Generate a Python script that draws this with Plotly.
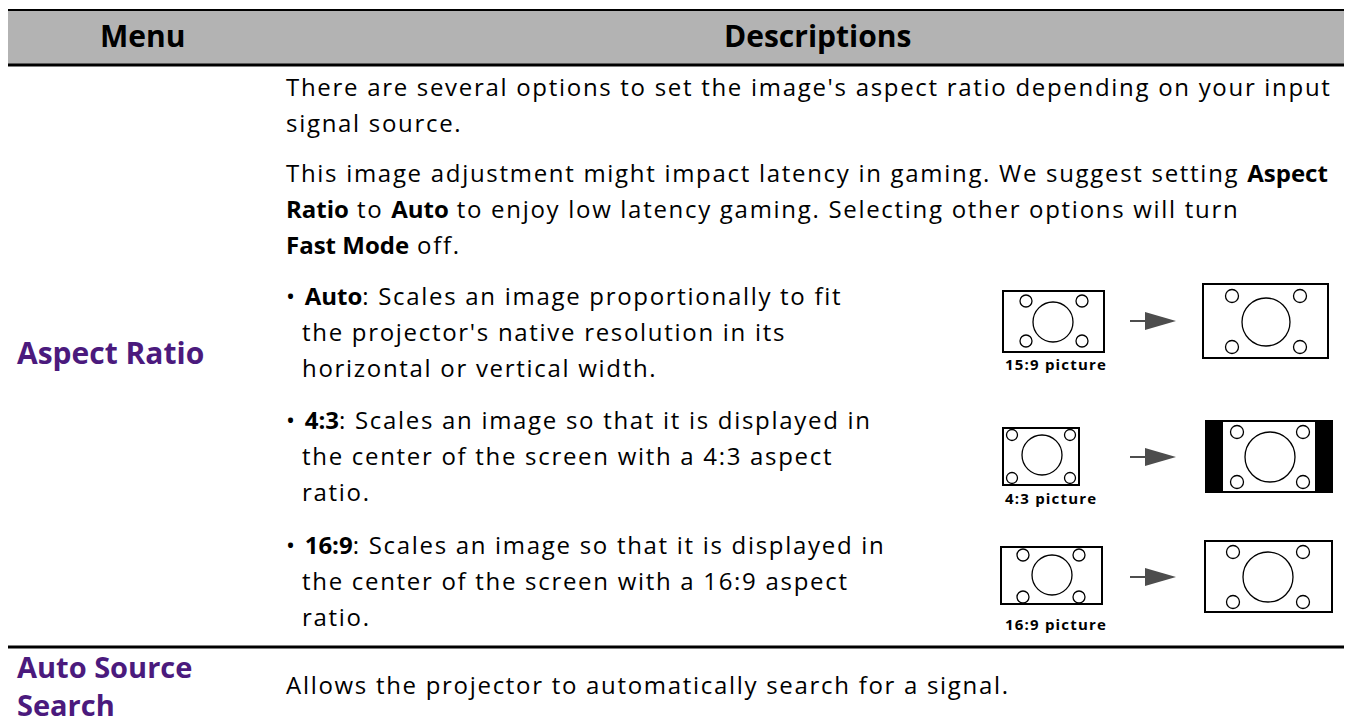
import plotly.graph_objects as go

# ---------------- content ----------------
header_labels = ["Menu", "Descriptions"]
menu_items = ["Aspect Ratio", ["Auto Source", "Search"]]

intro_lines = [
    "There are several options to set the image's aspect ratio depending on your input",
    "signal source.",
]
latency_lines = [
    "This image adjustment might impact latency in gaming. We suggest setting <b>Aspect</b>",
    "<b>Ratio</b> to <b>Auto</b> to enjoy low latency gaming. Selecting other options will turn",
    "<b>Fast Mode</b> off.",
]
option_names = ["Auto", "4:3", "16:9"]
option_first = [
    "Scales an image proportionally to fit",
    "Scales an image so that it is displayed in",
    "Scales an image so that it is displayed in",
]
option_rest = [
    ["the projector's native resolution in its", "horizontal or vertical width."],
    ["the center of the screen with a 4:3 aspect", "ratio."],
    ["the center of the screen with a 16:9 aspect", "ratio."],
]
picture_labels = ["15:9 picture", "4:3 picture", "16:9 picture"]
auto_source_text = "Allows the projector to automatically search for a signal."

# ---------------- layout constants ----------------
W, H = 1352, 724
OFF = 8  # browser body margin
FONT = "Open Sans"
BODY = 24
BIG = 30
PURPLE = "#4b1a7d"
GRAY = "#b3b3b3"
LINE_H = 36

fig = go.Figure()
shapes = []
ann = []

def text(x, y, s, size=BODY, color="black", anchor="left", family=FONT):
    ann.append(dict(x=x, y=y, xref="x", yref="y", text=s, showarrow=False,
                    xanchor=anchor, yanchor="middle", align=("center" if anchor == "center" else "left"),
                    font=dict(family=family, size=size, color=color)))

# header band and rules
shapes.append(dict(type="rect", x0=7, x1=1349, y0=10, y1=65, fillcolor=GRAY, line_width=0, layer="below"))
shapes.append(dict(type="line", x0=7, x1=1349, y0=10, y1=10, line=dict(color="black", width=2)))
shapes.append(dict(type="line", x0=7, x1=1349, y0=65, y1=65, line=dict(color="black", width=3)))
shapes.append(dict(type="line", x0=7, x1=1349, y0=647, y1=647, line=dict(color="black", width=3)))

text(142, 35, "<b>" + header_labels[0] + "</b>", size=BIG, anchor="center")
text(817, 35, "<b>" + header_labels[1] + "</b>", size=BIG, anchor="center")

# menu column
text(15, 352, "<b>" + menu_items[0] + "</b>", size=BIG, color=PURPLE)
text(15, 685, "<b>" + "<br>".join(menu_items[1]) + "</b>", size=29, color=PURPLE)

# description column
X0 = 284
X1 = 300
y = 86
for s in intro_lines:
    text(X0, y, s); y += LINE_H
y = 172
for s in latency_lines:
    text(X0, y, s); y += LINE_H

opt_y = [295, 419, 544]
for name, first, rest, y0 in zip(option_names, option_first, option_rest, opt_y):
    text(X0, y0, "• <b>" + name + "</b>: " + first)
    for i, s in enumerate(rest):
        text(X1, y0 + (i + 1) * LINE_H, s)

text(X0, 684, auto_source_text)

# ---------------- picture icons ----------------
src_boxes = [(1003, 1104, 291, 352), (1003, 1079, 428, 485), (1001, 1102, 547, 604)]
src_small = [((1026, 1082), (301, 341), 6), ((1012, 1070), (435, 478), 5.5), ((1023, 1079), (555, 597), 6)]
src_big = [(1053, 322, 20), (1042, 455, 20), (1052, 575, 20)]
label_pos = [(1003, 364), (1003, 498), (1003, 624)]

dst_boxes = [(1203, 1328, 284, 358), (1205, 1333, 420, 493), (1205, 1332, 541, 612)]
dst_inner = [None, (1223, 1315, 422, 491), None]
dst_small = [((1232, 1300), (296, 347), 6.5), ((1237, 1303), (432, 482), 6.5), ((1233, 1303), (552, 602), 6.5)]
dst_big = [(1266, 322, 24), (1270, 457, 25), (1268, 577, 25)]
arrow_y = [321, 457, 577]

def circ(cx, cy, r, w=1.3):
    shapes.append(dict(type="circle", x0=cx - r, x1=cx + r, y0=cy - r, y1=cy + r,
                       line=dict(color="black", width=w), fillcolor="white"))

for i in range(3):
    x0, x1, y0, y1 = src_boxes[i]
    shapes.append(dict(type="rect", x0=x0, x1=x1, y0=y0, y1=y1, line=dict(color="black", width=2), fillcolor="white"))
    xs, ys, r = src_small[i]
    for cx in xs:
        for cy in ys:
            circ(cx, cy, r)
    circ(*src_big[i])
    text(label_pos[i][0], label_pos[i][1], "<b>" + picture_labels[i] + "</b>", size=15)

    ay = arrow_y[i]
    shapes.append(dict(type="line", x0=1130, x1=1148, y0=ay, y1=ay, line=dict(color="#4d4d4d", width=2)))
    shapes.append(dict(type="path", path=f"M 1145 {ay-9} L 1176 {ay} L 1145 {ay+9} Z",
                       fillcolor="#4d4d4d", line=dict(width=0)))

    x0, x1, y0, y1 = dst_boxes[i]
    if dst_inner[i] is None:
        shapes.append(dict(type="rect", x0=x0, x1=x1, y0=y0, y1=y1, line=dict(color="black", width=2), fillcolor="white"))
    else:
        shapes.append(dict(type="rect", x0=x0, x1=x1, y0=y0, y1=y1, line=dict(color="black", width=0), fillcolor="black"))
        a0, a1, b0, b1 = dst_inner[i]
        shapes.append(dict(type="rect", x0=a0, x1=a1, y0=b0, y1=b1, line=dict(width=0), fillcolor="white"))
    xs, ys, r = dst_small[i]
    for cx in xs:
        for cy in ys:
            circ(cx, cy, r)
    circ(*dst_big[i])

fig.update_layout(
    width=W - OFF, height=H - OFF, autosize=False,
    margin=dict(l=0, r=0, t=0, b=0),
    paper_bgcolor="white", plot_bgcolor="white",
    xaxis=dict(range=[OFF, W], visible=False, fixedrange=True),
    yaxis=dict(range=[H, OFF], visible=False, fixedrange=True),
    shapes=shapes, annotations=ann, showlegend=False,
)

# slightly wider tracking for the body copy, to match the reference typeface
spacing_js = """
var gd = document.getElementById('{plot_id}');
if (gd) {
  gd.querySelectorAll('.annotation-text').forEach(function(t){
    var fs = parseFloat(t.style.fontSize) || 24;
    if (fs >= 28) { return; }
    if (fs < 18) { t.style.letterSpacing = '1.2px'; return; }
    t.style.letterSpacing = '1.7px';
    t.querySelectorAll('tspan').forEach(function(sp){
      if ((sp.style.fontWeight || '').indexOf('bold') >= 0) { sp.style.letterSpacing = '0px'; }
    });
  });
}
"""
fig.write_html("out.html", config={"displayModeBar": False, "responsive": False},
               post_script=spacing_js)
